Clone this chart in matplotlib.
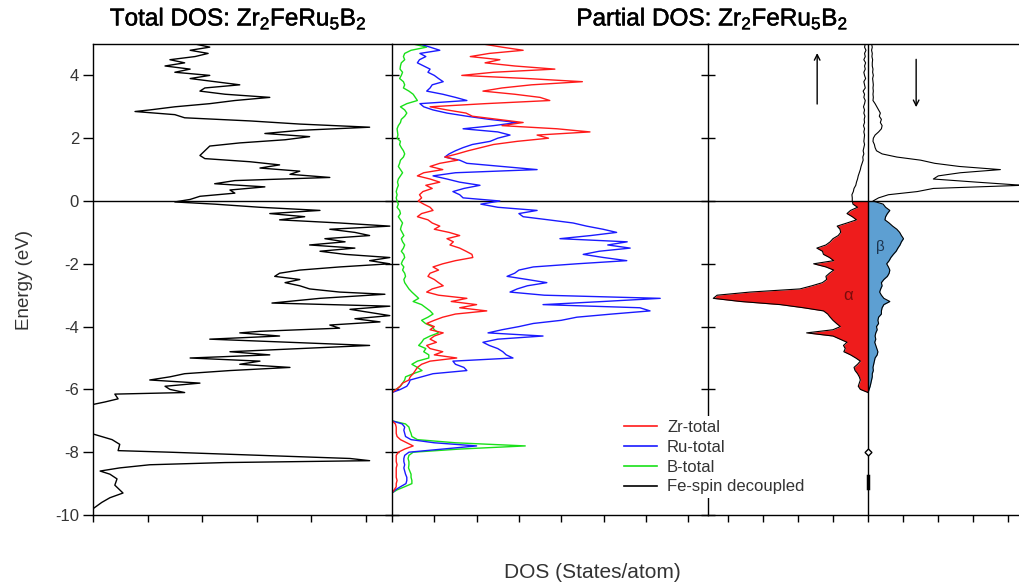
import numpy as np
import matplotlib
matplotlib.use("Agg")
import matplotlib.pyplot as plt
import matplotlib.patheffects as pe
from matplotlib.lines import Line2D

plt.rcParams['font.family'] = ['Liberation Sans', 'DejaVu Sans']
plt.rcParams['mathtext.fontset'] = 'custom'
plt.rcParams['mathtext.rm'] = 'Liberation Sans'
plt.rcParams['axes.unicode_minus'] = False

# ====== total DOS (left panel) ======
E_tot = [5.0, 4.9, 4.8, 4.7, 4.6, 4.5, 4.4, 4.3, 4.2, 4.1, 4.0, 3.9, 3.8, 3.7, 3.6, 3.5,
         3.4, 3.3, 3.2, 3.1, 3.0, 2.9, 2.85, 2.75, 2.65, 2.55, 2.45, 2.35, 2.25, 2.15,
         2.05, 1.95, 1.85, 1.75, 1.6, 1.45, 1.35, 1.25, 1.15, 1.05, 0.95, 0.85, 0.75,
         0.65, 0.55, 0.45, 0.35, 0.25, 0.15, 0.05, -0.03, -0.1, -0.2, -0.3, -0.4, -0.5,
         -0.6, -0.7, -0.8, -0.9, -1.0, -1.1, -1.2, -1.3, -1.4, -1.5, -1.6, -1.7, -1.8,
         -1.9, -2.0, -2.1, -2.2, -2.3, -2.4, -2.5, -2.6, -2.7, -2.8, -2.9, -2.97, -3.1,
         -3.25, -3.35, -3.45, -3.55, -3.65, -3.75, -3.85, -3.95, -4.05, -4.15, -4.2,
         -4.3, -4.4, -4.5, -4.6, -4.7, -4.8, -4.9, -5.0, -5.1, -5.2, -5.3, -5.4, -5.5,
         -5.6, -5.7, -5.8, -5.9, -6.0, -6.1, -6.15, -6.3, -6.4, -6.48, -7.0, -7.42,
         -7.6, -7.75, -7.95, -8.0, -8.1, -8.2, -8.27, -8.33, -8.4, -8.5, -8.6, -8.7,
         -8.85, -9.05, -9.3, -9.45, -9.6, -9.8]
dos_tot = [1.87, 2.14, 1.78, 2.11, 1.87, 1.41, 1.68, 1.32, 1.78, 1.50, 2.14, 1.78, 2.23,
           2.69, 2.05, 1.96, 2.42, 3.24, 2.60, 2.14, 1.50, 1.04, 0.77, 1.50, 1.68, 2.88,
           3.79, 5.07, 3.79, 3.15, 3.97, 3.52, 2.69, 2.14, 2.05, 1.96, 2.05, 2.88, 3.42,
           3.06, 3.79, 3.61, 4.34, 2.60, 2.23, 3.15, 2.51, 2.60, 1.96, 1.78, 1.50, 2.23,
           3.06, 4.16, 3.24, 3.88, 3.42, 4.52, 5.44, 4.34, 4.80, 5.07, 4.25, 4.62, 3.97,
           4.80, 4.16, 4.62, 5.44, 5.07, 5.44, 4.52, 3.79, 3.42, 3.33, 3.79, 3.52, 3.79,
           3.97, 4.52, 5.35, 4.16, 3.28, 5.44, 4.71, 5.07, 5.44, 4.80, 5.26, 4.34, 4.52,
           3.06, 2.69, 3.42, 2.14, 3.61, 5.07, 3.79, 2.51, 3.24, 1.78, 3.06, 2.69, 3.61,
           2.51, 1.68, 1.41, 1.04, 1.96, 1.32, 1.41, 1.68, 0.40, 0.46, 0.22, 0.0, 0.0,
           0.0, 0.35, 0.49, 0.46, 1.41, 3.06, 4.71, 5.07, 2.42, 1.04, 0.49, 0.13, 0.31,
           0.44, 0.40, 0.55, 0.31, 0.16, 0.0]

# ====== partial DOS (middle panel), grid 5.0 -> -6.1 step 0.1 ======
zr_main = [2.15, 2.6, 3.1, 2.3, 1.85, 2.55, 2.2, 2.9, 3.85, 2.4, 1.65, 3.2, 4.5, 3.3, 2.6,
           2.15, 2.9, 3.5, 3.73, 2.2, 0.9, 1.3, 1.75, 1.9, 2.5, 3.1, 2.6, 3.9, 4.68, 3.43,
           3.7, 2.96, 2.4, 2.1, 1.8, 1.54, 1.25, 1.55, 1.13, 0.9, 1.2, 0.75, 0.6, 0.9, 1.13,
           0.8, 0.95, 0.73, 0.65, 0.7, 0.62, 0.75, 0.9, 0.97, 0.7, 0.6, 0.85, 0.95, 1.13,
           1.0, 1.35, 1.6, 1.3, 1.45, 1.37, 1.6, 1.75, 1.89, 1.91, 1.5, 1.2, 0.97, 1.1, 0.9,
           0.85, 1.0, 1.1, 1.21, 0.95, 0.82, 1.1, 1.77, 1.4, 2.0, 1.6, 2.24, 1.5, 1.2, 1.0,
           0.82, 1.0, 0.9, 1.21, 1.0, 0.9, 1.05, 0.82, 0.9, 1.2, 1.0, 1.53, 0.9, 0.7, 0.6,
           0.55, 0.5, 0.43, 0.4, 0.25, 0.19, 0.1, 0.0]
ru_main = [0.66, 0.9, 1.13, 0.66, 0.8, 0.65, 0.6, 0.75, 0.9, 0.85, 1.0, 1.1, 1.21, 0.95,
           0.9, 0.82, 1.2, 1.5, 1.77, 0.66, 0.75, 0.97, 1.3, 1.77, 2.3, 2.96, 2.4, 1.68,
           2.5, 2.79, 2.5, 2.32, 1.9, 1.68, 1.5, 1.35, 1.25, 1.6, 1.77, 2.6, 3.43, 1.5,
           0.97, 1.3, 1.6, 2.08, 1.7, 1.44, 1.6, 1.68, 2.55, 2.1, 2.5, 3.43, 3.0, 3.1, 3.7,
           4.28, 4.6, 4.99, 5.31, 4.7, 3.97, 5.56, 5.1, 5.63, 4.9, 4.52, 5.0, 5.55, 4.37,
           3.34, 3.0, 2.9, 2.72, 3.2, 3.66, 3.2, 2.96, 2.79, 3.6, 6.34, 5.0, 3.57, 5.86,
           6.1, 5.2, 4.37, 4.0, 3.34, 3.0, 2.6, 2.27, 3.57, 2.5, 2.15, 2.3, 2.5, 2.62, 2.7,
           2.86, 1.44, 1.5, 1.7, 1.77, 0.97, 0.7, 0.43, 0.4, 0.35, 0.2, 0.0]
b_main = [0.5, 0.82, 0.45, 0.3, 0.27, 0.3, 0.22, 0.2, 0.19, 0.25, 0.22, 0.18, 0.27, 0.3,
          0.27, 0.4, 0.5, 0.55, 0.6, 0.35, 0.2, 0.3, 0.35, 0.3, 0.22, 0.2, 0.15, 0.12, 0.13,
          0.14, 0.12, 0.2, 0.18, 0.22, 0.27, 0.3, 0.27, 0.2, 0.18, 0.15, 0.2, 0.25, 0.2,
          0.15, 0.13, 0.15, 0.12, 0.1, 0.12, 0.1, 0.12, 0.15, 0.12, 0.18, 0.2, 0.15, 0.2,
          0.25, 0.22, 0.2, 0.24, 0.28, 0.22, 0.25, 0.3, 0.27, 0.22, 0.28, 0.3, 0.25, 0.22,
          0.28, 0.25, 0.3, 0.32, 0.28, 0.3, 0.35, 0.4, 0.47, 0.55, 0.63, 0.5, 0.7, 0.8, 0.9,
          0.97, 0.85, 0.7, 0.79, 0.95, 1.0, 1.1, 0.9, 0.75, 0.7, 0.63, 0.8, 0.75, 0.87,
          0.87, 0.6, 0.47, 0.6, 0.71, 0.5, 0.32, 0.3, 0.25, 0.2, 0.1, 0.0]

# semicore band, grid -7.0 -> -9.3 step 0.1
zr_low = [0.0, 0.08, 0.1, 0.1, 0.1, 0.12, 0.2, 0.35, 0.5, 0.3, 0.15, 0.1, 0.1, 0.1, 0.12,
          0.1, 0.1, 0.1, 0.1, 0.12, 0.1, 0.1, 0.05, 0.0]
ru_low = [0.0, 0.24, 0.3, 0.28, 0.3, 0.32, 0.45, 1.0, 2.0, 1.2, 0.4, 0.3, 0.28, 0.28, 0.3,
          0.28, 0.3, 0.32, 0.35, 0.35, 0.33, 0.2, 0.08, 0.0]
b_low = [0.0, 0.32, 0.4, 0.42, 0.45, 0.47, 0.6, 1.5, 3.15, 1.6, 0.5, 0.4, 0.38, 0.4, 0.4,
         0.39, 0.42, 0.45, 0.45, 0.47, 0.47, 0.3, 0.12, 0.0]

# ====== Fe spin decoupled (right panel), grid 5.0 -> -6.1 step 0.1 ======
fe_up = [-0.08, -0.1, -0.06, -0.1, -0.08, -0.12, -0.07, -0.1, -0.08, -0.12, -0.1, -0.07,
         -0.12, -0.1, -0.08, -0.14, -0.1, -0.12, -0.08, -0.1, -0.13, -0.1, -0.12, -0.09,
         -0.11, -0.1, -0.13, -0.1, -0.12, -0.1, -0.11, -0.12, -0.1, -0.12, -0.14, -0.12,
         -0.15, -0.14, -0.17, -0.2, -0.22, -0.25, -0.28, -0.3, -0.33, -0.35, -0.4, -0.42,
         -0.46, -0.45, -0.45, -0.43, -0.3, -0.5, -0.6, -0.45, -0.33, -0.6, -0.88, -0.8,
         -0.78, -0.85, -1.0, -1.08, -1.2, -1.46, -1.3, -1.27, -1.1, -0.98, -1.55, -1.2,
         -0.98, -1.1, -1.2, -1.18, -1.3, -1.6, -1.94, -3.36, -4.3, -4.41, -3.64, -2.5,
         -1.84, -1.27, -1.15, -1.08, -1.0, -0.9, -0.79, -1.0, -1.75, -1.0, -0.8, -0.6,
         -0.7, -0.65, -0.69, -0.5, -0.35, -0.22, -0.3, -0.4, -0.37, -0.3, -0.25, -0.22,
         -0.25, -0.28, -0.22, 0.0]
fe_dn = [0.1, 0.12, 0.1, 0.12, 0.11, 0.13, 0.12, 0.12, 0.14, 0.13, 0.15, 0.13, 0.14, 0.15,
         0.14, 0.15, 0.14, 0.15, 0.14, 0.2, 0.25, 0.3, 0.35, 0.32, 0.38, 0.35, 0.4, 0.38,
         0.3, 0.2, 0.15, 0.14, 0.18, 0.2, 0.24, 0.4, 0.82, 1.5, 1.9, 2.6, 3.77, 2.63, 2.0,
         1.86, 3.1, 4.4, 1.86, 1.4, 0.58, 0.3, 0.14, 0.43, 0.5, 0.62, 0.55, 0.5, 0.48, 0.6,
         0.7, 0.82, 0.9, 0.95, 1.01, 0.95, 0.91, 0.85, 0.8, 0.72, 0.65, 0.6, 0.53, 0.58,
         0.62, 0.6, 0.55, 0.45, 0.38, 0.4, 0.36, 0.33, 0.38, 0.45, 0.62, 0.45, 0.4, 0.38,
         0.38, 0.3, 0.28, 0.3, 0.24, 0.26, 0.22, 0.2, 0.22, 0.19, 0.22, 0.25, 0.28, 0.26,
         0.2, 0.18, 0.16, 0.14, 0.15, 0.12, 0.12, 0.1, 0.08, 0.06, 0.03, 0.0]

legend_labels = ['Zr-total', 'Ru-total', 'B-total', 'Fe-spin decoupled']
formula = r'$\mathregular{Zr_2FeRu_5B_2}$'

E_main = 5.0 - 0.1 * np.arange(len(zr_main))
E_low = -7.0 - 0.1 * np.arange(len(zr_low))
E_fe = 5.0 - 0.1 * np.arange(len(fe_up))

RED, BLUE, GREEN = '#ff1a1a', '#1a1aff', '#19e019'
TXT = '#333333'

fig = plt.figure(figsize=(10.19, 5.85), dpi=100)
bot, hgt = 1 - 515 / 585, (515 - 44) / 585
ax1 = fig.add_axes([93 / 1019, bot, 299 / 1019, hgt])
ax2 = fig.add_axes([392 / 1019, bot, 316 / 1019, hgt])
ax3 = fig.add_axes([708 / 1019, bot, 311 / 1019, hgt])

for ax in (ax1, ax2, ax3):
    ax.set_ylim(-10, 5)
    ax.axhline(0, color='black', lw=1.0)
    ax.tick_params(axis='x', direction='out', length=5, width=1, labelbottom=False)
    for s in ax.spines.values():
        s.set_linewidth(1.0)
    ax.set_yticks(np.arange(-10, 5, 2))

# left panel
ax1.plot(dos_tot, E_tot, color='black', lw=1.0)
ax1.set_xlim(0, 5.48)
ax1.set_xticks(np.arange(0, 6, 1))
ax1.spines['right'].set_visible(False)
ax1.tick_params(axis='y', direction='out', length=7, width=1, labelsize=12,
                labelcolor=TXT, pad=3)
ax1.set_ylabel('Energy (eV)', fontsize=13.5, color=TXT, labelpad=16)

# middle panel
for vals, low, c in ((b_main, b_low, GREEN), (ru_main, ru_low, BLUE), (zr_main, zr_low, RED)):
    ax2.plot(vals, E_main, color=c, lw=1.0)
    ax2.plot(low, E_low, color=c, lw=1.0)
ax2.set_xlim(0, 7.47)
ax2.set_xticks(np.arange(0, 8, 1))
ax2.spines['right'].set_visible(False)
ax2.tick_params(axis='y', direction='inout', length=10, width=1, labelleft=False)

# right panel
ax3.fill_betweenx(E_fe, 0, fe_up, where=E_fe <= 0.001, color='#ee1c1c', lw=0)
ax3.fill_betweenx(E_fe, 0, fe_dn, where=E_fe <= 0.001, color='#5d9fd2', lw=0)
ax3.plot(fe_up, E_fe, color='black', lw=0.8)
ax3.plot(fe_dn, E_fe, color='black', lw=0.8)
ax3.axvline(0, color='black', lw=1.0)
ax3.plot([0], [-8.0], marker='D', ms=3.5, mfc='white', mec='black', mew=1)
ax3.plot([0, 0], [-8.75, -9.15], color='black', lw=2.5)
ax3.set_xlim(-4.56, 4.30)
ax3.set_xticks(np.arange(-4, 5, 1))
ax3.spines['right'].set_visible(False)
ax3.tick_params(axis='y', direction='inout', length=10, width=1, labelleft=False)
ax3.text(-0.57, -3.0, 'α', color='#7a0c0c', fontsize=12, ha='center', va='center')
ax3.text(0.34, -1.45, 'β', color='#1d3550', fontsize=11, ha='center', va='center')
ax3.annotate('', xy=(-1.45, 4.8), xytext=(-1.45, 3.0),
             arrowprops=dict(arrowstyle='->', lw=1.0, color='black'))
ax3.annotate('', xy=(1.37, 2.9), xytext=(1.37, 4.6),
             arrowprops=dict(arrowstyle='->', lw=1.0, color='black'))

bold_fx = [pe.withStroke(linewidth=0.35, foreground='black')]
fig.text(238 / 1019, 1 - 19 / 585, 'Total DOS: ' + formula, fontsize=17.5,
         ha='center', va='center', path_effects=bold_fx)
fig.text(712 / 1019, 1 - 19 / 585, 'Partial DOS: ' + formula, fontsize=17.5,
         ha='center', va='center', path_effects=bold_fx)
fig.text(592 / 1019, 1 - 572 / 585, 'DOS (States/atom)', fontsize=15, color=TXT,
         ha='center', va='center')

handles = [Line2D([], [], color=RED, lw=1.2), Line2D([], [], color=BLUE, lw=1.2),
           Line2D([], [], color=GREEN, lw=1.2), Line2D([], [], color='black', lw=1.2)]
leg = fig.legend(handles, legend_labels, loc='center left',
                 bbox_to_anchor=(612 / 1019, 1 - 457 / 585), fontsize=12,
                 frameon=True, facecolor='white', edgecolor='none', framealpha=1,
                 handlelength=2.0, handletextpad=0.6, labelspacing=0.3,
                 borderpad=0.2, fancybox=False)
for t in leg.get_texts():
    t.set_color(TXT)

fig.savefig('out.png', dpi=100)
